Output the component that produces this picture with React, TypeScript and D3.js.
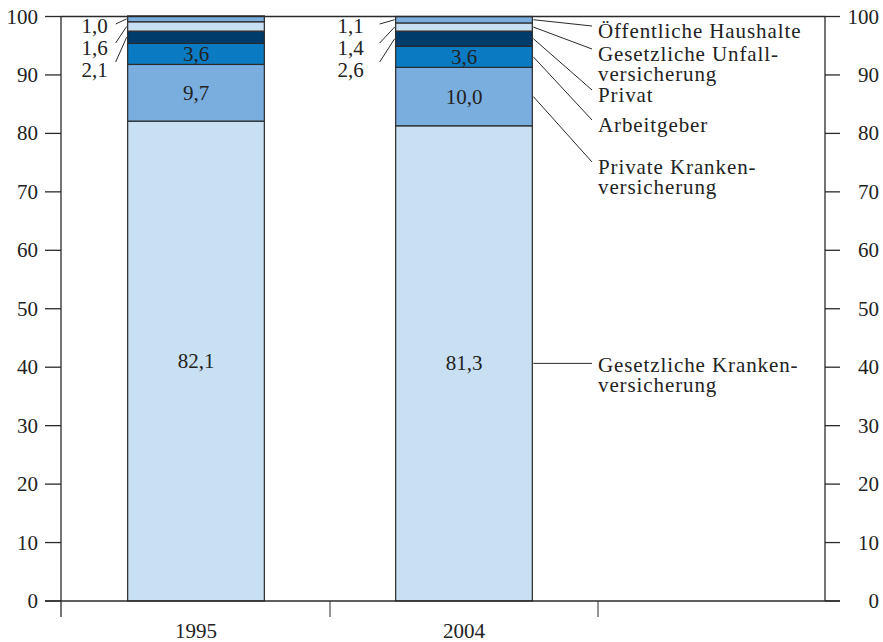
import React from "react";
import * as d3 from "d3";

const years = ["1995", "2004"];
const sources = [
  "Gesetzliche Krankenversicherung",
  "Private Krankenversicherung",
  "Arbeitgeber",
  "Privat",
  "Gesetzliche Unfallversicherung",
  "Öffentliche Haushalte",
];
const values1995 = [82.1, 9.7, 3.6, 2.1, 1.6, 1.0];
const values2004 = [81.3, 10.0, 3.6, 2.6, 1.4, 1.1];
const legendLabels = [
  ["Gesetzliche Kranken-", "versicherung"],
  ["Private Kranken-", "versicherung"],
  ["Arbeitgeber"],
  ["Privat"],
  ["Gesetzliche Unfall-", "versicherung"],
  ["Öffentliche Haushalte"],
];
const yTicks = [0, 10, 20, 30, 40, 50, 60, 70, 80, 90, 100];

const colors = ["#c9dff2", "#7aaedf", "#0a7bc2", "#003c6b", "#c9dff2", "#7aaedf"];

// layout
const W = 883;
const H = 642;
const left = 61;
const right = 825;
const top = 16.5;
const bottom = 601;
const FONT = "'Liberation Serif', 'Times New Roman', serif";
const FS = 21;
// legend (cap-top y of first line) per source index
const legendTopY = [358, 160, 118, 88, 47, 24];
// left outside labels: baseline y and line-start y (top-most first: indices 5,4,3)
const outsideBase = [33, 55, 77];
const outsideLineStart = [24, 43, 62];
const outsideOffset = [
  { text: 20, line: 12 },
  { text: 32, line: 16 },
];

const fmt = (v: number) => d3.format(".1f")(v).replace(".", ",");

export default function App() {
  const y = d3.scaleLinear().domain([0, 100]).range([bottom, top]);
  const x = d3.scaleBand().domain(years).range([left + 1, 598]).paddingInner(0.49).paddingOuter(0.245);
  const bw = x.bandwidth();
  const data = [values1995, values2004];
  const stacks = data.map((vals) => {
    let acc = 0;
    return vals.map((v) => {
      const s = { y0: acc, y1: acc + v, v };
      acc += v;
      return s;
    });
  });
  const ink = "#2a2a2a";
  const lastX = (x(years[1]) as number) + bw;

  return (
    <svg width={W} height={H} style={{ position: "absolute", left: 0, top: 0, background: "#fff" }}
      fontFamily={FONT} fontSize={FS} fill="#222">
      {/* bars */}
      {stacks.map((st, i) => (
        <g key={years[i]}>
          {st.map((s, j) => (
            <rect key={j} x={x(years[i])} y={y(s.y1)} width={bw} height={y(s.y0) - y(s.y1)}
              fill={colors[j]} stroke={ink} strokeWidth={1.2} />
          ))}
          {st.slice(0, 3).map((s, j) => (
            <text key={"t" + j} x={(x(years[i]) as number) + bw / 2} y={y((s.y0 + s.y1) / 2)}
              textAnchor="middle" dominantBaseline="central" fill="#222">{fmt(s.v)}</text>
          ))}
          {[5, 4, 3].map((j, k) => {
            const s = st[j];
            const bx = x(years[i]) as number;
            return (
              <g key={"o" + j}>
                <line x1={bx - outsideOffset[i].line} y1={outsideLineStart[k]} x2={bx - 1}
                  y2={y((s.y0 + s.y1) / 2)} stroke={ink} strokeWidth={1} />
                <text x={bx - outsideOffset[i].text} y={outsideBase[k]} textAnchor="end">{fmt(s.v)}</text>
              </g>
            );
          })}
        </g>
      ))}
      {/* frame */}
      <line x1={left} x2={left} y1={top} y2={617} stroke={ink} strokeWidth={1.3} />
      <line x1={right} x2={right} y1={top} y2={bottom} stroke={ink} strokeWidth={1.3} />
      <line x1={left} x2={right} y1={top} y2={top} stroke={ink} strokeWidth={1.3} />
      {yTicks.map((t) => (
        <g key={t}>
          <line x1={45} x2={left} y1={y(t)} y2={y(t)} stroke={ink} strokeWidth={1.3} />
          <line x1={right} x2={840} y1={y(t)} y2={y(t)} stroke={ink} strokeWidth={1.3} />
          <text x={38} y={y(t)} textAnchor="end" dominantBaseline="central">{t}</text>
          <text x={879} y={y(t)} textAnchor="end" dominantBaseline="central">{t}</text>
        </g>
      ))}
      <line x1={45} x2={840} y1={bottom} y2={bottom} stroke={ink} strokeWidth={1.5} />
      {[x(years[1]) as number - (x.step() * x.paddingInner()) / 2, 598].map((bx, i) => (
        <line key={i} x1={bx} x2={bx} y1={bottom} y2={617} stroke={ink} strokeWidth={1} />
      ))}
      {years.map((yr) => (
        <text key={yr} x={(x(yr) as number) + bw / 2} y={638} textAnchor="middle">{yr}</text>
      ))}
      {/* legend */}
      {sources.map((src, j) => {
        const s = stacks[1][j];
        const sy = y((s.y0 + s.y1) / 2);
        const ty = legendTopY[j];
        return (
          <g key={src}>
            <line x1={lastX + 1} y1={sy} x2={592} y2={j === 0 ? sy : ty + 2} stroke={ink} strokeWidth={1} />
            {legendLabels[j].map((ln, k) => (
              <text key={k} x={598} y={ty + 14 + k * 20} letterSpacing={0.9}>{ln}</text>
            ))}
          </g>
        );
      })}
    </svg>
  );
}
